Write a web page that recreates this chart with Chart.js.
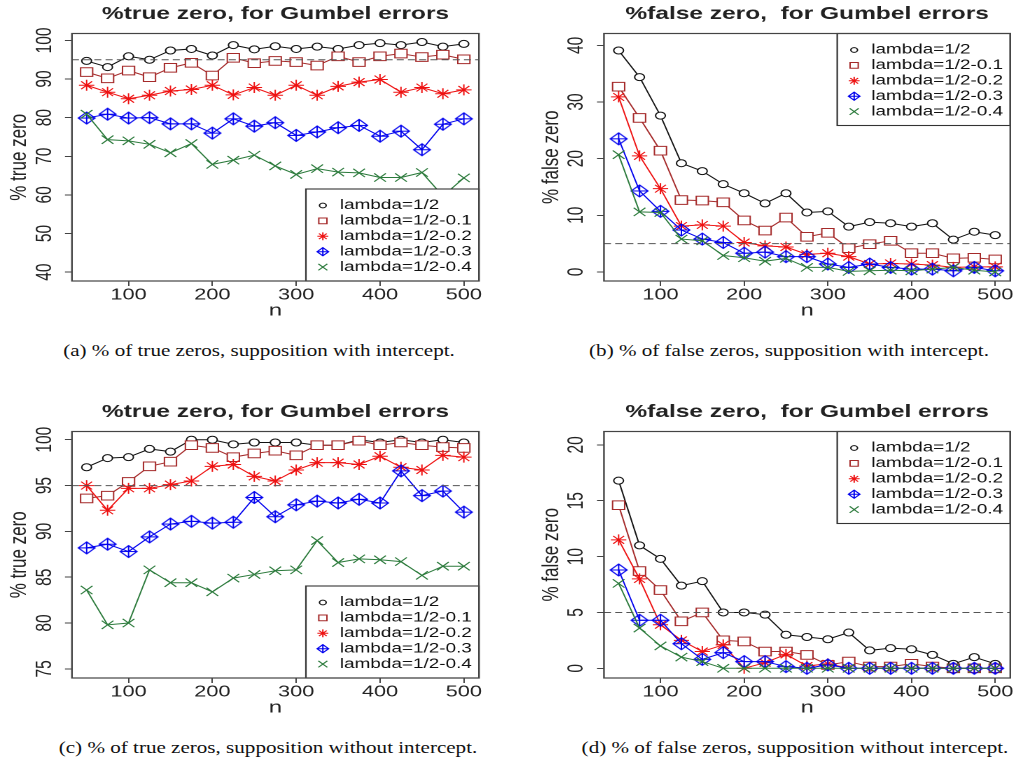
<!DOCTYPE html>
<html>
<head>
<meta charset="utf-8">
<script src="https://cdn.jsdelivr.net/npm/chart.js@4.4.1/dist/chart.umd.min.js"></script>
<style>
  body { margin: 0; background: #fff; width: 1021px; height: 765px; overflow: hidden; position: relative; }
  .panel { position: absolute; transform: scaleX(1.4); transform-origin: 0 0; }
  .cap { position: absolute; font-family: "Liberation Serif", "Times New Roman", serif; font-size: 17px; line-height: 20px;
         color: #111; white-space: nowrap; transform: translateX(-50%) scaleX(1.24); }
</style>
</head>
<body>
<div class="panel" style="left:0px;top:0px"><canvas id="ca" width="360" height="330"></canvas></div>
<div class="panel" style="left:505px;top:0px"><canvas id="cb" width="368" height="330"></canvas></div>
<div class="panel" style="left:0px;top:395px"><canvas id="cc" width="360" height="330"></canvas></div>
<div class="panel" style="left:505px;top:395px"><canvas id="cd" width="368" height="330"></canvas></div>

<div class="cap" style="left:259px;top:341px">(a) % of true zeros, supposition with intercept.</div>
<div class="cap" style="left:789px;top:341px">(b) % of false zeros, supposition with intercept.</div>
<div class="cap" style="left:268px;top:738px">(c) % of true zeros, supposition without intercept.</div>
<div class="cap" style="left:795px;top:738px">(d) % of false zeros, supposition without intercept.</div>

<script>
// sample sizes on the x axis
const nValues = [50, 75, 100, 125, 150, 175, 200, 225, 250, 275, 300, 325, 350, 375, 400, 425, 450, 475, 500];
const xTicks = [100, 200, 300, 400, 500];
const xRange = [32.5, 518];
const seriesLabels = ['lambda=1/2', 'lambda=1/2-0.1', 'lambda=1/2-0.2', 'lambda=1/2-0.3', 'lambda=1/2-0.4'];

// (a) % true zero, with intercept
const trueZeroWithInt = [
  [94.7, 93.1, 95.9, 95.0, 97.4, 97.8, 96.1, 98.8, 97.7, 98.5, 97.8, 98.4, 97.8, 98.8, 99.3, 98.8, 99.6, 98.4, 99.1],
  [91.8, 90.2, 92.2, 90.5, 92.9, 94.2, 90.9, 95.5, 94.1, 94.7, 94.4, 93.5, 95.9, 94.4, 95.9, 96.6, 95.7, 96.3, 95.1],
  [88.4, 86.6, 84.9, 85.8, 86.9, 87.3, 88.4, 85.9, 87.8, 85.8, 88.4, 85.8, 88.1, 89.2, 89.9, 86.6, 87.8, 86.2, 87.2],
  [79.9, 80.9, 79.9, 80.0, 78.4, 78.4, 76.0, 79.7, 77.8, 78.7, 75.4, 76.3, 77.4, 78.0, 75.2, 76.5, 71.7, 78.3, 79.7],
  [80.9, 74.3, 74.0, 73.1, 70.9, 73.3, 67.9, 69.0, 70.3, 67.5, 65.3, 66.8, 65.9, 65.7, 64.5, 64.5, 65.8, 59.7, 64.4]
];
// (b) % false zero, with intercept
const falseZeroWithInt = [
  [39.1, 34.4, 27.6, 19.2, 17.8, 15.5, 13.9, 12.1, 13.9, 10.5, 10.7, 8.0, 8.8, 8.6, 8.0, 8.6, 5.7, 7.1, 6.5],
  [32.7, 27.2, 21.4, 12.7, 12.6, 12.3, 9.1, 7.3, 9.6, 6.2, 6.9, 4.2, 4.9, 5.5, 3.3, 3.3, 2.4, 2.5, 2.2],
  [30.9, 20.5, 14.7, 8.1, 8.3, 8.1, 5.2, 4.6, 4.4, 3.1, 3.3, 2.7, 1.4, 1.5, 1.4, 1.2, 0.8, 0.9, 0.9],
  [23.5, 14.3, 10.7, 7.4, 5.8, 5.2, 3.3, 3.5, 2.7, 2.7, 1.4, 0.8, 1.4, 0.8, 0.5, 0.5, 0.2, 0.8, 0.2],
  [20.7, 10.6, 10.5, 5.8, 5.5, 2.9, 2.5, 1.9, 2.4, 0.8, 0.8, 0.1, 0.2, 0.3, 0.2, 0.5, 0.8, 0.3, 0.0]
];
// (c) % true zero, without intercept
const trueZeroNoInt = [
  [97.0, 98.0, 98.1, 99.0, 98.7, 100, 100, 99.5, 99.7, 99.7, 99.7, 99.4, 99.4, 100, 99.7, 100, 99.7, 100, 99.7],
  [93.6, 93.9, 95.4, 97.1, 97.6, 99.4, 99.1, 98.1, 98.5, 98.8, 98.3, 99.4, 99.4, 99.9, 99.4, 99.7, 99.4, 99.2, 99.1],
  [95.0, 92.3, 94.7, 94.7, 95.1, 95.5, 97.1, 97.3, 96.0, 95.5, 96.7, 97.5, 97.5, 97.3, 98.2, 97.0, 96.7, 98.3, 98.1],
  [88.2, 88.6, 87.8, 89.4, 90.8, 91.1, 90.9, 91.0, 93.7, 91.6, 92.9, 93.3, 93.1, 93.5, 93.1, 96.6, 93.9, 94.4, 92.1],
  [83.6, 79.8, 80.0, 85.8, 84.4, 84.4, 83.4, 84.9, 85.3, 85.7, 85.8, 89.0, 86.6, 87.0, 86.9, 86.7, 85.2, 86.2, 86.2]
];
// (d) % false zero, without intercept
const falseZeroNoInt = [
  [16.8, 11.0, 9.8, 7.4, 7.8, 5.0, 5.0, 4.8, 3.0, 2.8, 2.6, 3.2, 1.6, 1.8, 1.7, 1.2, 0.4, 1.0, 0.4],
  [14.6, 8.7, 7.0, 4.2, 5.0, 2.5, 2.4, 1.5, 1.5, 1.2, 0.3, 0.6, 0.15, 0.15, 0.4, 0.15, 0, 0, 0],
  [11.5, 8.0, 3.9, 2.5, 1.5, 2.1, 0, 0.5, 1.25, 0.2, 0.4, 0, 0, 0, 0, 0, 0, 0, 0],
  [8.8, 4.3, 4.3, 2.2, 0.8, 1.4, 0.6, 0.6, 0.15, 0, 0.3, 0, 0, 0, 0, 0, 0, 0, 0],
  [7.6, 3.6, 2.0, 1.0, 0.6, 0, 0, 0, 0, 0, 0, 0, 0, 0, 0, 0, 0, 0, 0]
];

const yTicksA = [40, 50, 60, 70, 80, 90, 100];
const yTicksB = [0, 10, 20, 30, 40];
const yTicksC = [75, 80, 85, 90, 95, 100];
const yTicksD = [0, 5, 10, 15, 20];
const yRangeA = [37.7, 101.8];
const yRangeB = [-1.6, 42.1];
const yRangeC = [74.0, 100.9];
const yRangeD = [-0.87, 21.2];
const refTrue = 95;
const refFalse = 5;

const FONT = "'Liberation Sans', Arial, Helvetica, sans-serif";
Chart.defaults.font.family = FONT;
Chart.defaults.color = '#222';

const seriesColors = ['#111111', '#a52a2a', '#ee1111', '#0000ee', '#2b7a3b'];
const markerKinds = ['circle', 'square', 'star', 'diamond', 'cross'];

// pch 9 style marker (diamond with a plus), drawn at 4x for sharpness
function makeDiamond(half, color) {
  const k = 4, size = Math.ceil(half * 2 + 2), m = size / 2;
  const c = document.createElement('canvas');
  c.width = size * k; c.height = size * k;
  const g = c.getContext('2d');
  g.scale(k, k);
  g.strokeStyle = color; g.lineWidth = 1;
  g.beginPath();
  g.moveTo(m, m - half); g.lineTo(m + half, m); g.lineTo(m, m + half); g.lineTo(m - half, m); g.closePath();
  g.moveTo(m - half, m); g.lineTo(m + half, m);
  g.moveTo(m, m - half); g.lineTo(m, m + half);
  g.stroke();
  const img = new Image(size, size);
  img.onload = () => charts.forEach(ch => ch.update('none'));
  img.src = c.toDataURL();
  return img;
}
const charts = [];
const diamondImg = makeDiamond(6, seriesColors[3]);

const pointStyles = ['circle', 'rect', 'star', diamondImg, 'crossRot'];
const pointRadii = [3.5, 6.1, 5.5, 6, 5.9];
const pointFills = ['#fff', '#fff', 'rgba(0,0,0,0)', 'rgba(0,0,0,0)', 'rgba(0,0,0,0)'];

function drawSymbol(ctx, kind, x, y, color) {
  ctx.save();
  ctx.strokeStyle = color; ctx.lineWidth = 1;
  ctx.beginPath();
  if (kind === 'circle') {
    ctx.arc(x, y, 2.4, 0, Math.PI * 2);
  } else if (kind === 'square') {
    ctx.rect(x - 2.9, y - 2.9, 5.8, 5.8);
  } else if (kind === 'star') {
    const r = 3.9, d = r * Math.SQRT1_2;
    ctx.moveTo(x - r, y); ctx.lineTo(x + r, y); ctx.moveTo(x, y - r); ctx.lineTo(x, y + r);
    ctx.moveTo(x - d, y - d); ctx.lineTo(x + d, y + d); ctx.moveTo(x - d, y + d); ctx.lineTo(x + d, y - d);
  } else if (kind === 'diamond') {
    const r = 4.1;
    ctx.moveTo(x, y - r); ctx.lineTo(x + r, y); ctx.lineTo(x, y + r); ctx.lineTo(x - r, y); ctx.closePath();
    ctx.moveTo(x - r, y); ctx.lineTo(x + r, y); ctx.moveTo(x, y - r); ctx.lineTo(x, y + r);
  } else {
    const d = 3.2;
    ctx.moveTo(x - d, y - d); ctx.lineTo(x + d, y + d); ctx.moveTo(x - d, y + d); ctx.lineTo(x + d, y - d);
  }
  ctx.stroke();
  ctx.restore();
}

// R-like extras: dashed reference line, legend box, frame, rotated y labels, main title
const rPlot = {
  id: 'rPlot',
  afterDatasetsDraw(chart, args, o) {
    const {ctx, chartArea: a} = chart;
    const ry = chart.scales.y.getPixelForValue(o.ref);
    ctx.save();
    ctx.strokeStyle = '#555'; ctx.lineWidth = 1; ctx.setLineDash([5, 3]);
    ctx.beginPath(); ctx.moveTo(a.left, ry); ctx.lineTo(a.right, ry); ctx.stroke();
    ctx.restore();

    const w = 123.6, h = 92;
    const lx = a.right - w, ly = o.legendAt === 'top' ? a.top : a.bottom - h;
    ctx.save();
    ctx.fillStyle = '#fff'; ctx.fillRect(lx, ly, w, h);
    ctx.strokeStyle = '#333'; ctx.lineWidth = 1.1; ctx.strokeRect(lx, ly, w, h);
    ctx.font = '13.5px ' + FONT; ctx.textBaseline = 'middle'; ctx.textAlign = 'left'; ctx.fillStyle = '#111';
    chart.data.datasets.forEach((ds, i) => {
      const yy = ly + 16.5 + 15.4 * i;
      drawSymbol(ctx, markerKinds[i], lx + 12.1, yy, ds.borderColor);
      ctx.fillText(ds.label, lx + 24.3, yy);
    });
    ctx.restore();
  },
  afterDraw(chart, args, o) {
    const {ctx, chartArea: a} = chart;
    const y = chart.scales.y;
    ctx.save();
    ctx.strokeStyle = '#444'; ctx.lineWidth = 1.2;
    ctx.strokeRect(a.left, a.top, a.right - a.left, a.bottom - a.top);
    ctx.fillStyle = '#222'; ctx.font = '15.5px ' + FONT; ctx.textAlign = 'center'; ctx.textBaseline = 'middle';
    y.ticks.forEach(t => {
      ctx.save();
      ctx.translate(a.left - 19.3, y.getPixelForValue(t.value));
      ctx.rotate(-Math.PI / 2);
      ctx.fillText(t.label, 0, 0);
      ctx.restore();
    });
    ctx.font = 'bold 17.5px ' + FONT;
    ctx.fillText(o.title, (a.left + a.right) / 2, a.top - 19.5);
    ctx.restore();
  }
};

function makePanel(id, p) {
  const datasets = p.values.map((vals, i) => ({
    label: seriesLabels[i],
    data: vals.map((v, j) => ({x: nValues[j], y: v})),
    borderColor: seriesColors[i],
    borderWidth: 1,
    pointStyle: pointStyles[i],
    pointRadius: pointRadii[i],
    pointBorderColor: seriesColors[i],
    pointBackgroundColor: pointFills[i],
    pointBorderWidth: 1,
    tension: 0,
    fill: false,
    order: 4 - i
  }));
  const tickGrid = {drawOnChartArea: false, drawTicks: true, tickLength: 5, color: '#444', lineWidth: 1};
  const ch = new Chart(document.getElementById(id), {
    type: 'line',
    data: {datasets},
    plugins: [rPlot],
    options: {
      responsive: false,
      animation: false,
      devicePixelRatio: 2,
      events: [],
      layout: {padding: p.pad},
      plugins: {
        legend: {display: false},
        tooltip: {enabled: false},
        rPlot: {ref: p.ref, legendAt: p.legendAt, title: p.title}
      },
      scales: {
        x: {
          type: 'linear', min: xRange[0], max: xRange[1],
          afterBuildTicks: s => { s.ticks = xTicks.map(v => ({value: v})); },
          afterFit: s => { s.height = 40; },
          grid: tickGrid,
          border: {display: false},
          ticks: {font: {size: 15.5}, color: '#222', padding: 0, maxRotation: 0, autoSkip: false},
          title: {display: true, text: 'n', font: {size: 17}, color: '#222', padding: {top: 0, bottom: 0}}
        },
        y: {
          type: 'linear', min: p.yRange[0], max: p.yRange[1],
          afterBuildTicks: s => { s.ticks = p.yTicks.map(v => ({value: v})); },
          afterFit: s => { s.width = 51.4; },
          grid: tickGrid,
          border: {display: false},
          ticks: {display: false},
          title: {display: true, text: p.yTitle, font: {size: 17}, color: '#222', padding: {top: 3.7, bottom: 0}}
        }
      }
    }
  });
  charts.push(ch);
}

makePanel('ca', {title: '%true zero, for Gumbel errors', yTitle: '% true zero', values: trueZeroWithInt,
  yTicks: yTicksA, yRange: yRangeA, ref: refTrue, legendAt: 'bottom', pad: {left: 0, right: 17.9, top: 33.5, bottom: 9}});
makePanel('cb', {title: '%false zero,  for Gumbel errors', yTitle: '% false zero', values: falseZeroWithInt,
  yTicks: yTicksB, yRange: yRangeB, ref: refFalse, legendAt: 'top', pad: {left: 19.3, right: 5.9, top: 33.5, bottom: 9}});
makePanel('cc', {title: '%true zero, for Gumbel errors', yTitle: '% true zero', values: trueZeroNoInt,
  yTicks: yTicksC, yRange: yRangeC, ref: refTrue, legendAt: 'bottom', pad: {left: 0, right: 17.9, top: 36.5, bottom: 7}});
makePanel('cd', {title: '%false zero,  for Gumbel errors', yTitle: '% false zero', values: falseZeroNoInt,
  yTicks: yTicksD, yRange: yRangeD, ref: refFalse, legendAt: 'top', pad: {left: 19.3, right: 5.9, top: 36.5, bottom: 7}});
</script>
</body>
</html>
